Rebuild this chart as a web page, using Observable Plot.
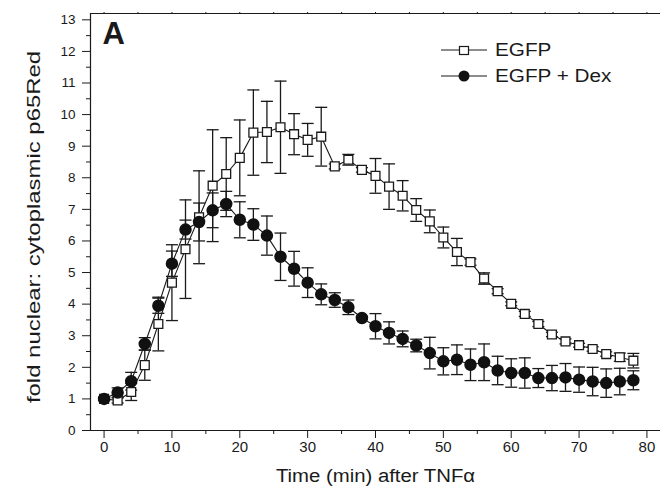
<!DOCTYPE html>
<html>
<head>
<meta charset="utf-8">
<script src="https://cdn.jsdelivr.net/npm/d3@7"></script>
<script src="https://cdn.jsdelivr.net/npm/@observablehq/plot@0.6"></script>
<style>
  html, body { margin: 0; padding: 0; background: #fff; }
  #wrap { position: relative; width: 660px; height: 489px; font-family: "Liberation Sans", Arial, sans-serif; }
  #legend { position: absolute; left: 440px; top: 37px; font-size: 18px; color: #1a1a1a; line-height: 26px; }
  #legend .row { display: flex; align-items: center; height: 26px; }
  #legend svg { margin-right: 7px; }
  #legend span { display: inline-block; transform: scaleX(1.15); transform-origin: left center; }
</style>
</head>
<body>
<div id="wrap"><div id="chart"></div><div id="legend"></div></div>
<script>
// Time points (min after TNFα)
const times = [0, 2, 4, 6, 8, 10, 12, 14, 16, 18, 20, 22, 24, 26, 28, 30, 32, 34, 36, 38,
               40, 42, 44, 46, 48, 50, 52, 54, 56, 58, 60, 62, 64, 66, 68, 70, 72, 74, 76, 78];

// EGFP (open squares)
const egfpMean = [1.0, 0.95, 1.22, 2.07, 3.37, 4.68, 5.74, 6.75, 7.75, 8.12, 8.63, 9.43, 9.45, 9.6, 9.38, 9.2, 9.3, 8.36, 8.57, 8.25,
                  8.06, 7.72, 7.43, 6.98, 6.62, 6.11, 5.65, 5.33, 4.81, 4.41, 4.01, 3.69, 3.37, 3.04, 2.82, 2.70, 2.58, 2.42, 2.32, 2.21];
const egfpErr  = [0.05, 0.08, 0.27, 0.48, 0.85, 1.2, 1.56, 1.47, 1.77, 1.15, 1.2, 1.35, 0.97, 1.46, 0.65, 0.52, 0.93, 0.08, 0.17, 0.07,
                  0.55, 0.72, 0.48, 0.36, 0.36, 0.33, 0.43, 0.1, 0.18, 0.08, 0.06, 0.08, 0.08, 0.07, 0.08, 0.06, 0.07, 0.07, 0.13, 0.23];

// EGFP + Dex (filled circles)
const dexMean = [1.0, 1.2, 1.56, 2.74, 3.95, 5.28, 6.36, 6.6, 6.97, 7.17, 6.67, 6.52, 6.17, 5.5, 5.12, 4.68, 4.31, 4.13, 3.9, 3.56,
                 3.3, 3.09, 2.9, 2.69, 2.45, 2.19, 2.24, 2.08, 2.16, 1.9, 1.82, 1.82, 1.66, 1.66, 1.68, 1.61, 1.55, 1.5, 1.55, 1.59];
const dexErr  = [0.05, 0.15, 0.28, 0.2, 0.24, 0.4, 0.3, 0.6, 0.55, 0.4, 0.57, 0.5, 0.62, 0.75, 0.55, 0.47, 0.33, 0.23, 0.23, 0.05,
                 0.4, 0.35, 0.25, 0.2, 0.5, 0.43, 0.47, 0.5, 0.58, 0.45, 0.45, 0.48, 0.3, 0.4, 0.44, 0.4, 0.45, 0.45, 0.42, 0.3];

const seriesNames = ["EGFP", "EGFP + Dex"];
const xMajor = [0, 10, 20, 30, 40, 50, 60, 70, 80];
const xMinor = [5, 15, 25, 35, 45, 55, 65, 75];
const yMajor = [0, 1, 2, 3, 4, 5, 6, 7, 8, 9, 10, 11, 12, 13];
const yMinor = [0.5, 1.5, 2.5, 3.5, 4.5, 5.5, 6.5, 7.5, 8.5, 9.5, 10.5, 11.5, 12.5];
const xTitle = "Time (min) after TNFα";
const yTitle = "fold nuclear: cytoplasmic p65Red";
const panelLabel = "A";

const egfp = times.map((t, i) => ({t, m: egfpMean[i], lo: egfpMean[i] - egfpErr[i], hi: egfpMean[i] + egfpErr[i]}));
const dex  = times.map((t, i) => ({t, m: dexMean[i],  lo: dexMean[i]  - dexErr[i],  hi: dexMean[i]  + dexErr[i]}));

// horizontal cap symbol for error bars
const cap = { draw(ctx, size) { const r = Math.sqrt(size / Math.PI); ctx.moveTo(-r, 0); ctx.lineTo(r, 0); } };

const ink = "#1a1a1a";
const xDom = [-2, 82], yDom = [0, 13.2];

const chart = Plot.plot({
  width: 660, height: 489,
  marginLeft: 90, marginRight: 0, marginTop: 13, marginBottom: 59,
  x: {domain: xDom},
  y: {domain: yDom},
  style: {fontFamily: "'Liberation Sans', Arial, sans-serif", color: ink, background: "#fff"},
  marks: [
    // frame lines
    Plot.ruleY([yDom[1]], {stroke: ink, strokeWidth: 1.2}),
    Plot.ruleY([0], {stroke: ink, strokeWidth: 1.2}),
    Plot.ruleX([xDom[0]], {stroke: ink, strokeWidth: 1.2}),
    // axes
    Plot.axisX({ticks: xMajor, tickSize: 8, tickPadding: 3, fontSize: 15, label: null, stroke: ink}),
    Plot.axisX({ticks: xMinor, tickSize: 4, tickFormat: () => "", label: null, stroke: ink}),
    Plot.axisX({anchor: "top", ticks: xMajor.concat(xMinor), tickSize: 2, tickFormat: () => "", label: null, stroke: ink}),
    Plot.axisY({ticks: yMajor, tickSize: 8, tickPadding: 7, fontSize: 13.5, label: null, stroke: ink}),
    Plot.axisY({ticks: yMinor, tickSize: 4, tickFormat: () => "", label: null, stroke: ink}),
    // error bars
    Plot.ruleX(egfp, {x: "t", y1: "lo", y2: "hi", stroke: ink, strokeWidth: 1.3}),
    Plot.dot(egfp, {x: "t", y: "lo", symbol: cap, r: 6, stroke: ink, strokeWidth: 1.3}),
    Plot.dot(egfp, {x: "t", y: "hi", symbol: cap, r: 6, stroke: ink, strokeWidth: 1.3}),
    Plot.ruleX(dex, {x: "t", y1: "lo", y2: "hi", stroke: ink, strokeWidth: 1.3}),
    Plot.dot(dex, {x: "t", y: "lo", symbol: cap, r: 6, stroke: ink, strokeWidth: 1.3}),
    Plot.dot(dex, {x: "t", y: "hi", symbol: cap, r: 6, stroke: ink, strokeWidth: 1.3}),
    // lines
    Plot.line(egfp, {x: "t", y: "m", stroke: ink, strokeWidth: 1.1}),
    Plot.line(dex, {x: "t", y: "m", stroke: ink, strokeWidth: 1.1}),
    // markers
    Plot.dot(egfp, {x: "t", y: "m", symbol: "square", r: 5, fill: "#fff", stroke: ink, strokeWidth: 1.3}),
    Plot.dot(dex, {x: "t", y: "m", symbol: "circle", r: 5.5, fill: "#111", stroke: "#111"}),
    // titles and panel label
    Plot.text([xTitle], {frameAnchor: "bottom", dy: 51, fontSize: 18, fill: ink}),
    Plot.text([yTitle], {frameAnchor: "left", dx: -56, dy: 5, rotate: -90, textAnchor: "middle", fontSize: 18, fill: ink}),
    Plot.text([panelLabel], {frameAnchor: "top-left", dx: 12, dy: 8, fontSize: 31, fontWeight: "bold", fill: ink, textAnchor: "start", lineAnchor: "top"})
  ]
});
document.getElementById("chart").appendChild(chart);

// stretch the titles along their reading direction, as in the reference figure
d3.select(chart).selectAll("text").each(function () {
  const el = d3.select(this);
  const txt = this.textContent;
  const tf = el.attr("transform") || "";
  if (txt === xTitle) el.attr("transform", tf + " scale(1.13,1)");
  if (txt === yTitle) el.attr("transform", tf + " scale(1.33,1)");
});

// legend
const legend = document.getElementById("legend");
const icons = [
  `<svg width="48" height="12"><line x1="1" y1="6" x2="47" y2="6" stroke="${ink}" stroke-width="1.2"/><rect x="19.5" y="2.5" width="9" height="8" fill="#fff" stroke="${ink}" stroke-width="1.2"/></svg>`,
  `<svg width="48" height="12"><line x1="1" y1="6" x2="47" y2="6" stroke="${ink}" stroke-width="1.2"/><circle cx="24" cy="6" r="5.5" fill="#111"/></svg>`
];
seriesNames.forEach((name, i) => {
  const row = document.createElement("div");
  row.className = "row";
  row.innerHTML = icons[i] + `<span>${name}</span>`;
  legend.appendChild(row);
});
</script>
</body>
</html>
